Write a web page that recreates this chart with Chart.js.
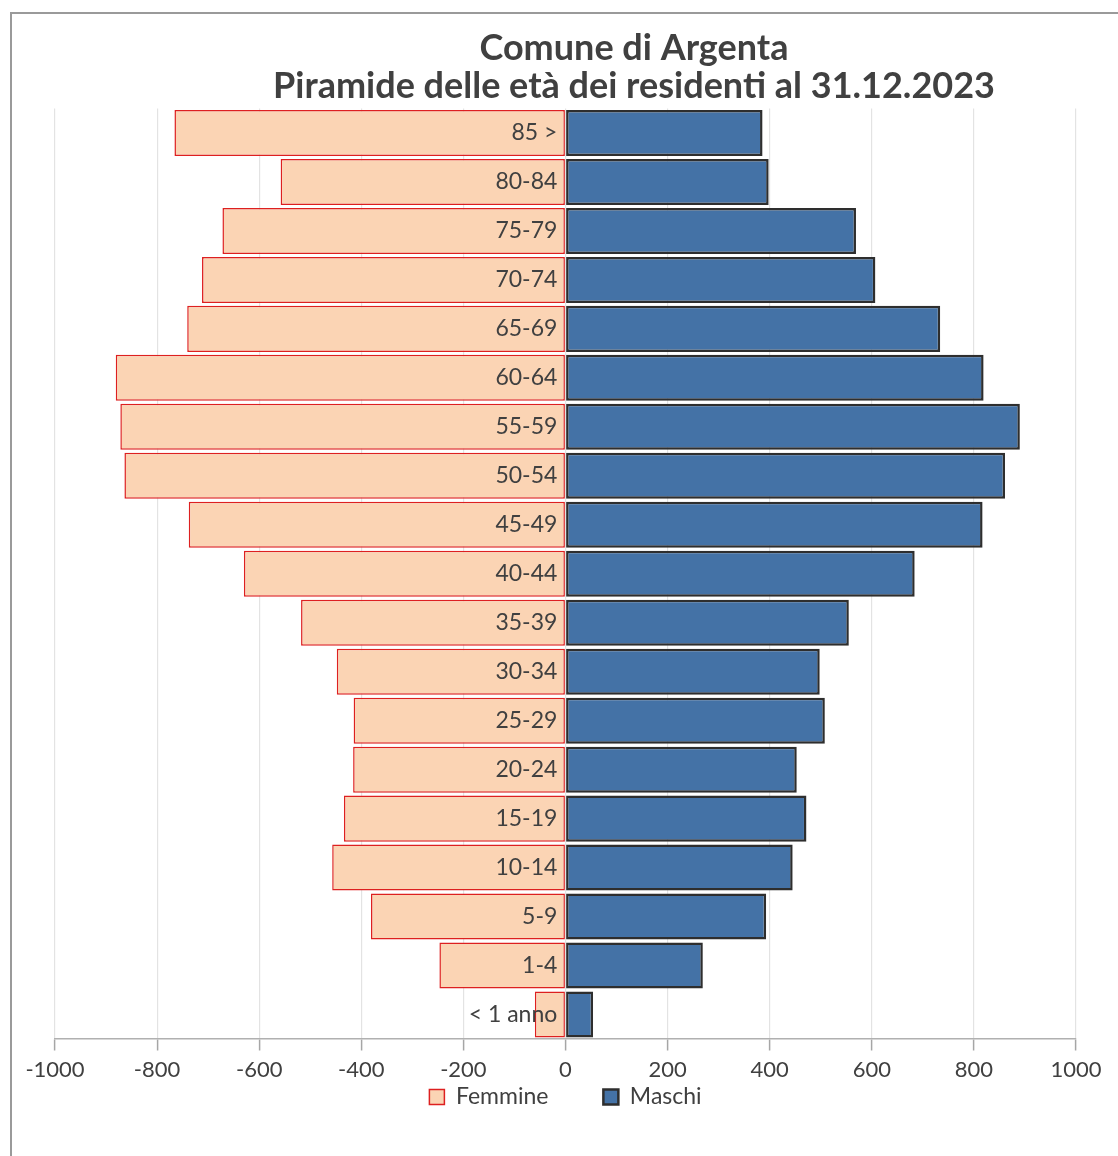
<!DOCTYPE html>
<html>
<head>
<meta charset="utf-8">
<script src="https://cdn.jsdelivr.net/npm/chart.js@4/dist/chart.umd.min.js"></script>
<style>
  html, body { margin: 0; padding: 0; background: #ffffff; overflow: hidden; width: 1118px; height: 1156px; }
  #frame { position: absolute; left: 10px; top: 12px; width: 1200px; height: 1200px;
           border-left: 2px solid #9a9a9a; border-top: 2px solid #9a9a9a; box-sizing: border-box; }
  #c { position: absolute; left: 0; top: 0; }
</style>
</head>
<body>
<div id="frame"></div>
<canvas id="c" width="1268" height="1156"></canvas>
<script>
const titleLines = ["Comune di Argenta", "Piramide delle età dei residenti al 31.12.2023"];
const ageClasses = ["85 >", "80-84", "75-79", "70-74", "65-69", "60-64", "55-59", "50-54", "45-49",
                    "40-44", "35-39", "30-34", "25-29", "20-24", "15-19", "10-14", "5-9", "1-4", "< 1 anno"];
const femmine = [-766, -558, -672, -712, -741, -881, -872, -864, -738, -630, -518, -448, -415, -416, -434, -457, -381, -247, -60];
const maschi  = [386, 398, 569, 607, 734, 819, 890, 861, 817, 684, 555, 498, 508, 453, 472, 445, 393, 269, 54];
const xMin = -1000, xMax = 1000, xStep = 200;

const textColor = '#404040';
Chart.defaults.font.family = 'Lato, "Open Sans", sans-serif';
Chart.defaults.color = textColor;

new Chart(document.getElementById('c'), {
  type: 'bar',
  data: {
    labels: ageClasses,
    datasets: [
      { label: 'Femmine', data: femmine, backgroundColor: '#FBD4B4', borderColor: '#DD2020',
        borderWidth: 1.5, borderSkipped: false },
      { label: 'Maschi', data: maschi, backgroundColor: '#4472A6', borderColor: '#2E2E2E',
        borderWidth: 2.5, borderSkipped: false }
    ]
  },
  options: {
    indexAxis: 'y',
    responsive: false,
    animation: false,
    events: [],
    datasets: { bar: { categoryPercentage: 1.0, barPercentage: 0.94 } },
    layout: { padding: { left: 55, right: 55, top: 0, bottom: 37.5 } },
    scales: {
      x: {
        stacked: true,
        position: { y: ageClasses.length - 0.5 },
        min: xMin, max: xMax,
        ticks: { stepSize: xStep, font: { size: 22 }, color: textColor, padding: 7, maxRotation: 0,
                 callback: (v) => String(v) },
        grid: { color: '#e3e3e3', lineWidth: 1.2, tickColor: '#a6a6a6', tickLength: 11, tickWidth: 1.5 },
        border: { display: true, color: '#b0b0b0', width: 1.5 }
      },
      y: {
        stacked: true,
        position: { x: -16 },
        grid: { display: false, drawTicks: false },
        border: { display: false },
        ticks: { font: { size: 23 }, color: textColor, padding: 0, z: 1 }
      },
      yRight: {
        type: 'category',
        axis: 'y',
        position: 'right',
        afterFit: (s) => { s.width = 137; },
        grid: { display: false, drawTicks: false },
        border: { display: false },
        ticks: { display: false }
      }
    },
    plugins: {
      title: {
        display: true,
        text: titleLines,
        color: textColor,
        font: { size: 36, weight: 'bold', lineHeight: '38px' },
        padding: { top: 29, bottom: 3.5 }
      },
      legend: {
        display: true,
        position: 'bottom',
        fullSize: false,
        title: { display: true, text: ' ', font: { size: 10, lineHeight: 1 }, padding: { top: -18.5, bottom: 0 } },
        labels: { font: { size: 23 }, color: textColor, boxWidth: 15, boxHeight: 15, padding: 55 }
      },
      tooltip: { enabled: false }
    }
  }
});
</script>
</body>
</html>
